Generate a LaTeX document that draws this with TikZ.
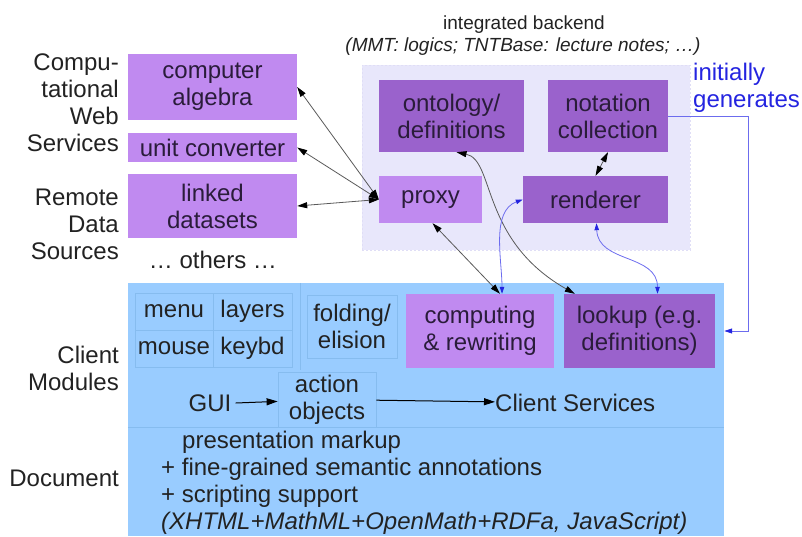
\documentclass[tikz,border=0pt]{standalone}
\usepackage{fontspec}
\setmainfont{Liberation Sans}
\usetikzlibrary{arrows.meta,calc}
\definecolor{lightpurple}{HTML}{C08AF0}
\definecolor{midpurple}{HTML}{9A62CC}
\definecolor{backendbg}{HTML}{E8E7FB}
\definecolor{backendedge}{HTML}{E0DEF6}
\definecolor{clientbg}{HTML}{99CCFF}
\definecolor{cellline}{HTML}{86BCEF}
\definecolor{ink}{HTML}{222222}
\definecolor{boxink}{HTML}{2A1C3A}
\definecolor{linkblue}{HTML}{2424E0}
\definecolor{linkbluel}{HTML}{6C6CEE}

\begin{document}
\begin{tikzpicture}[x=1pt,y=-1pt,
  every node/.style={font=\fontsize{24}{27}\selectfont, text=ink, inner sep=0pt, align=center},
  light/.style={fill=lightpurple, text=boxink},
  mid/.style={fill=midpurple, text=boxink},
  cell/.style={draw=cellline, line width=0.8pt},
  label/.style={align=right, anchor=east},
  small/.style={font=\fontsize{19}{22}\selectfont},
  link/.style={draw=black!65, line width=0.8pt,
    {Triangle[length=10pt,width=6pt,color=black]}-{Triangle[length=10pt,width=6pt,color=black]}},
  blink/.style={draw=linkbluel, line width=0.8pt,
    {Triangle[length=7pt,width=4.5pt,color=linkblue]}-{Triangle[length=7pt,width=4.5pt,color=linkblue]}},
  flow/.style={draw=black, line width=1pt, -{Triangle[length=11pt,width=7pt]}},
]
\useasboundingbox (0,0) rectangle (802,536);

% backgrounds of the two tiers
\node[fill=backendbg, draw=backendedge, dash pattern=on 2pt off 2pt,
      minimum width=328pt, minimum height=185pt] (backend) at (526,157.5) {};
\node[fill=clientbg, minimum width=596pt, minimum height=253pt] (client) at (426,409.5) {};

% tier titles and row labels
\node[small] (bt1) at (524,25) {integrated backend};
\node[small] (bt2) at (523,47) {\itshape(MMT: logics; TNTBase: lecture notes; …)};
\node[label] (lweb) at (119,102.5) {Compu-\\tational\\Web\\Services};
\node[label] (lrem) at (119,224.5) {Remote\\Data\\Sources};
\node (others) at (213,260) {… others …};
\node[label] (lcli) at (119,368.5) {Client\\Modules};
\node[label] (ldoc) at (119,478) {Document};
\node[text=linkblue, align=left, anchor=west] (gen) at (693,87.5) {initially\\generates};

% web services and data sources
\node[light, minimum width=169pt, minimum height=66pt] (ca) at (212.5,87) {computer\\algebra};
\node[light, minimum width=169pt, minimum height=29pt] (uc) at (212.5,147.5) {unit converter};
\node[light, minimum width=169pt, minimum height=64pt] (ld) at (212.5,206) {linked\\datasets};

% backend components
\node[mid, minimum width=145pt, minimum height=72pt] (onto) at (451.5,116) {ontology/\\definitions};
\node[mid, minimum width=120pt, minimum height=72pt] (nota) at (608,116) {notation\\collection};
\node[light, minimum width=103pt, minimum height=47pt] (proxy) at (430.5,199.5) {proxy};
\node[mid, minimum width=145pt, minimum height=47pt] (rend) at (595.5,199.5) {renderer};

% client modules
\node[cell, minimum width=78pt, minimum height=37pt] (menu) at (174,311.5) {menu};
\node[cell, minimum width=79pt, minimum height=37pt] (layers) at (252.5,311.5) {layers};
\node[cell, minimum width=78pt, minimum height=37pt] (mouse) at (174,348.5) {mouse};
\node[cell, minimum width=79pt, minimum height=37pt] (keybd) at (252.5,348.5) {keybd};
\draw[draw=cellline, line width=0.8pt] (client.north -| 300,0) -- (300,370);
\node[cell, minimum width=90pt, minimum height=63pt] (fold) at (352,326.5) {folding/\\elision};
\node[light, minimum width=148pt, minimum height=74pt] (comp) at (480,331) {computing\\\& rewriting};
\node[mid, minimum width=151pt, minimum height=74pt] (look) at (639.5,331) {lookup (e.g.\\definitions)};
\node (gui) at (210,403) {GUI};
\node[cell, minimum width=98pt, minimum height=55pt] (action) at (327,399.5) {action\\objects};
\node[anchor=west] (serv) at (495,403) {Client Services};
\draw[draw=cellline, line width=0.8pt] (client.west |- 0,427) -- (client.east |- 0,427);

% document layer
\node[align=left, anchor=north west] (doc) at (161,431)
  {\hspace*{21pt}presentation markup\\
   + fine-grained semantic annotations\\
   + scripting support\\
   \itshape(XHTML+MathML+OpenMath+RDFa, JavaScript)};

% connections to the services
\draw[link] (ca.east) -- (proxy.west);
\draw[link] (uc.east) -- (proxy.west);
\draw[link] (ld.east) -- (proxy.west);
\draw[link] (nota.south) -- (rend.north);
\draw[link] ([xshift=5pt]onto.south) .. controls (495,160) and (480,240) .. ([xshift=11pt]look.north west);
\draw[link] ([xshift=2pt]proxy.south) -- ([xshift=20pt]comp.north);
\draw[blink] (rend.west) to[out=200, in=90, looseness=0.9] ([xshift=22pt]comp.north);
\draw[blink] ([xshift=1pt]rend.south) to[out=-88, in=90, looseness=1.1] ([xshift=18pt]look.north);
\draw[draw=linkbluel, line width=0.8pt, -{Triangle[length=8pt,width=5pt,color=linkblue]}]
  (nota.east) -- ++(80,0) |- (client.east |- look.east);

% data flow inside the client
\draw[flow] ([xshift=4pt]gui.east) -- (action);
\draw[flow] (action) -- (serv);
\end{tikzpicture}
\end{document}
